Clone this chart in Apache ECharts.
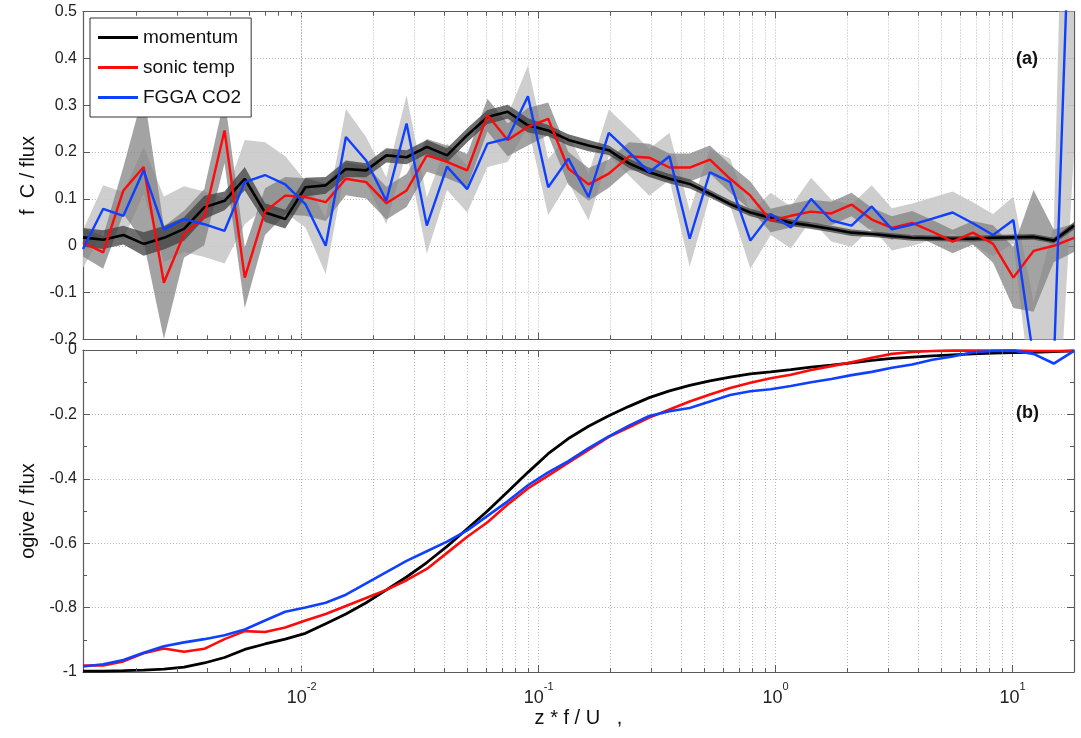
<!DOCTYPE html>
<html><head><meta charset="utf-8">
<script src="https://cdn.jsdelivr.net/npm/echarts@6/dist/echarts.min.js"></script>
<style>html,body{margin:0;padding:0;background:#fff}#c{width:1081px;height:738px}</style>
</head><body><div id="c"></div>
<script>
// normalised frequency z*f/U (bin centres)
const freq = [0.001195,0.001454,0.001769,0.002154,0.002622,0.003190,0.003883,0.004727,0.005753,0.007004,
  0.008524,0.01037,0.01263,0.01537,0.01871,0.02277,0.02771,0.03373,0.04106,0.04997,
  0.06081,0.07401,0.09011,0.1097,0.1335,0.1624,0.1977,0.2406,0.2929,0.3565,
  0.4338,0.5281,0.6427,0.7822,0.9524,1.159,1.411,1.717,2.090,2.544,
  3.096,3.768,4.586,5.581,6.797,8.272,10.07,12.25,14.91,18.15];

// panel (a): f C / flux
const specMomentum = [0.018,0.013,0.023,0.004,0.017,0.036,0.082,0.096,0.143,0.071,
  0.057,0.125,0.129,0.164,0.161,0.193,0.189,0.211,0.193,0.236,
  0.275,0.286,0.257,0.246,0.226,0.214,0.204,0.176,0.157,0.143,
  0.132,0.111,0.089,0.071,0.060,0.049,0.043,0.036,0.028,0.025,
  0.021,0.017,0.016,0.015,0.015,0.017,0.018,0.019,0.011,0.043];
const specSonic = [0.007,-0.014,0.118,0.168,-0.079,0.025,0.061,0.246,-0.068,0.073,
  0.107,0.104,0.093,0.143,0.136,0.091,0.118,0.193,0.179,0.161,
  0.279,0.226,0.254,0.271,0.165,0.131,0.154,0.191,0.188,0.167,
  0.167,0.184,0.143,0.107,0.054,0.064,0.073,0.069,0.088,0.056,
  0.038,0.049,0.030,0.009,0.028,0.004,-0.068,-0.011,0.0,0.017];
const specCO2 = [-0.007,0.079,0.064,0.161,0.035,0.057,0.046,0.032,0.136,0.151,
  0.131,0.089,0.0,0.232,0.182,0.096,0.261,0.043,0.169,0.121,
  0.218,0.229,0.319,0.125,0.186,0.104,0.241,0.2,0.157,0.191,
  0.015,0.157,0.136,0.011,0.068,0.039,0.1,0.054,0.043,0.084,
  0.035,0.045,0.058,0.071,0.048,0.023,0.055,-0.24,-0.26,1.0];
// half-widths of the shaded spread bands
const errMomentum = [0.02,0.02,0.02,0.025,0.025,0.025,0.025,0.02,0.025,0.02,
  0.02,0.02,0.018,0.018,0.015,0.015,0.015,0.015,0.015,0.015,
  0.015,0.015,0.015,0.012,0.012,0.012,0.01,0.01,0.01,0.01,
  0.01,0.008,0.008,0.008,0.008,0.007,0.007,0.007,0.007,0.006,
  0.006,0.006,0.006,0.006,0.006,0.006,0.006,0.006,0.006,0.008];
const errSonic = [0.03,0.035,0.05,0.16,0.12,0.05,0.06,0.07,0.065,0.05,
  0.04,0.04,0.04,0.035,0.035,0.035,0.035,0.035,0.035,0.035,
  0.035,0.035,0.04,0.035,0.035,0.035,0.03,0.03,0.03,0.03,
  0.03,0.03,0.03,0.03,0.025,0.025,0.025,0.025,0.025,0.025,
  0.025,0.025,0.025,0.025,0.025,0.04,0.065,0.13,0.035,0.03];
const errCO2 = [0.04,0.05,0.05,0.05,0.07,0.07,0.07,0.07,0.09,0.07,
  0.06,0.05,0.06,0.06,0.05,0.05,0.06,0.06,0.05,0.05,
  0.05,0.05,0.065,0.06,0.05,0.05,0.05,0.05,0.05,0.05,
  0.06,0.05,0.05,0.06,0.045,0.045,0.045,0.045,0.045,0.045,
  0.045,0.045,0.045,0.045,0.045,0.045,0.05,0.12,0.3,0.8];

// panel (b): ogive / flux
const ogMomentum = [-0.997,-0.997,-0.996,-0.994,-0.991,-0.985,-0.972,-0.955,-0.93,-0.913,
  -0.898,-0.88,-0.85,-0.82,-0.785,-0.745,-0.705,-0.66,-0.61,-0.555,
  -0.50,-0.44,-0.38,-0.322,-0.275,-0.237,-0.204,-0.175,-0.148,-0.127,
  -0.11,-0.096,-0.084,-0.074,-0.068,-0.061,-0.053,-0.047,-0.040,-0.032,
  -0.026,-0.022,-0.018,-0.015,-0.012,-0.01,-0.008,-0.007,-0.005,-0.003];
const ogSonic = [-0.98,-0.98,-0.967,-0.942,-0.927,-0.937,-0.928,-0.898,-0.873,-0.876,
  -0.862,-0.84,-0.82,-0.795,-0.77,-0.745,-0.715,-0.68,-0.63,-0.58,
  -0.535,-0.48,-0.43,-0.39,-0.35,-0.31,-0.27,-0.24,-0.21,-0.185,
  -0.16,-0.138,-0.118,-0.102,-0.088,-0.077,-0.062,-0.05,-0.038,-0.024,
  -0.012,-0.006,-0.003,-0.002,-0.002,-0.002,-0.002,-0.003,-0.003,-0.003];
const ogCO2 = [-0.983,-0.976,-0.963,-0.94,-0.92,-0.908,-0.898,-0.886,-0.868,-0.84,
  -0.813,-0.80,-0.785,-0.76,-0.725,-0.69,-0.655,-0.625,-0.595,-0.56,
  -0.515,-0.47,-0.42,-0.38,-0.345,-0.305,-0.268,-0.235,-0.205,-0.19,
  -0.18,-0.16,-0.14,-0.128,-0.122,-0.112,-0.1,-0.09,-0.078,-0.068,
  -0.055,-0.045,-0.03,-0.02,-0.007,-0.003,-0.002,-0.012,-0.042,-0.003];

// axis ticks
const minorXTicks = [0.002,0.003,0.004,0.005,0.006,0.007,0.008,0.009,
  0.02,0.03,0.04,0.05,0.06,0.07,0.08,0.09,
  0.2,0.3,0.4,0.5,0.6,0.7,0.8,0.9,
  2,3,4,5,6,7,8,9];
const seriesNames = ['momentum','sonic temp','FGGA CO2'];
const seriesColors = ['#000000','#ff0a0a','#1040ff'];

const FONT = '"Liberation Sans", Arial, Helvetica, sans-serif';
const XMIN = freq[0], XMAX = freq[freq.length - 1];
const pairs = ys => freq.map((x, i) => [x, ys[i]]);

const gridLine = {show: true, lineStyle: {color: '#b8b8b8', type: [1, 2], width: 1}};
const axisColor = '#5a5a5a';

function xAxisDef(gi, pos, labels) {
  return {
    type: 'log', logBase: 10, gridIndex: gi, position: pos, min: XMIN, max: XMAX,
    axisLine: {show: true, onZero: false, lineStyle: {color: axisColor, width: 1.2}},
    axisTick: {show: true, inside: true, length: 7, lineStyle: {color: axisColor}},
    axisLabel: labels ? {
      show: true, showMinLabel: false, showMaxLabel: false, margin: 9,
      formatter: v => '{b|10}{s|' + Math.round(Math.log10(v)) + '}',
      rich: {
        b: {fontSize: 18, fontFamily: FONT, color: '#222', verticalAlign: 'bottom', lineHeight: 26},
        s: {fontSize: 11, fontFamily: FONT, color: '#222', verticalAlign: 'top'}
      }
    } : {show: false},
    splitLine: pos === 'bottom' ? gridLine : {show: false}
  };
}
function yAxisDef(gi, pos, min, max, interval, minor, name) {
  const a = {
    type: 'value', gridIndex: gi, position: pos, min: min, max: max, interval: interval,
    axisLine: {show: true, onZero: false, lineStyle: {color: axisColor, width: 1.2}},
    axisTick: {show: true, inside: true, length: 7, lineStyle: {color: axisColor}},
    minorTick: minor ? {show: true, splitNumber: 2, length: 4, lineStyle: {color: axisColor}} : {show: false},
    axisLabel: pos === 'left' ? {show: true, fontSize: 16, color: '#222', fontFamily: FONT, margin: 6} : {show: false},
    splitLine: pos === 'left' ? gridLine : {show: false}
  };
  if (name) {
    a.name = name; a.nameLocation = 'middle'; a.nameGap = 44;
    a.nameTextStyle = {fontSize: 20, color: '#111', fontFamily: FONT};
  }
  return a;
}
// shaded spread band drawn as one polygon through the axes' scales
function band(gi, ys, e, color, opacity) {
  return {
    type: 'custom', xAxisIndex: gi * 2, yAxisIndex: gi * 2, silent: true, z: 2,
    data: freq.map((x, i) => [x, ys[i] - e[i], ys[i] + e[i]]),
    encode: {x: 0, y: [1, 2]},
    renderItem: (params, api) => {
      if (params.dataIndex !== 0) return null;
      const n = params.dataInsideLength || freq.length;
      const up = [], lo = [];
      for (let i = 0; i < n; i++) {
        up.push(api.coord([api.value(0, i), api.value(2, i)]));
        lo.push(api.coord([api.value(0, i), api.value(1, i)]));
      }
      const cs = params.coordSys;
      return {
        type: 'polygon', shape: {points: up.concat(lo.reverse())},
        style: {fill: color, opacity: opacity},
        clipPath: {type: 'rect', shape: {x: cs.x, y: cs.y, width: cs.width, height: cs.height}}
      };
    }
  };
}
function line(gi, idx, ys, w) {
  return {type: 'line', name: seriesNames[idx], xAxisIndex: gi * 2, yAxisIndex: gi * 2, data: pairs(ys),
    symbol: 'none', z: 3, lineStyle: {color: seriesColors[idx], width: w}, itemStyle: {color: seriesColors[idx]}};
}
// dotted grid lines and short inside ticks at the minor log positions
function minorGrid(gi, ys, yMin, yMax, tickLen) {
  const ticks = [];
  minorXTicks.forEach(v => {
    ticks.push([{coord: [v, yMin]}, {coord: [v, yMin + tickLen]}]);
    ticks.push([{coord: [v, yMax]}, {coord: [v, yMax - tickLen]}]);
  });
  return [
    {type: 'line', name: 'minorGrid' + gi, xAxisIndex: gi * 2, yAxisIndex: gi * 2, data: pairs(ys),
      symbol: 'none', lineStyle: {opacity: 0}, silent: true, z: 1,
      markLine: {silent: true, symbol: ['none', 'none'], label: {show: false}, animation: false, z: 1,
        lineStyle: {type: [1, 2], color: '#b8b8b8', width: 1}, emphasis: {disabled: true},
        data: minorXTicks.map(v => ({xAxis: v}))}},
    {type: 'line', name: 'minorTick' + gi, xAxisIndex: gi * 2, yAxisIndex: gi * 2, data: pairs(ys),
      symbol: 'none', lineStyle: {opacity: 0}, silent: true, z: 4,
      markLine: {silent: true, symbol: ['none', 'none'], label: {show: false}, animation: false, z: 4,
        lineStyle: {type: 'solid', color: axisColor, width: 1}, emphasis: {disabled: true},
        data: ticks}}
  ];
}

const option = {
  backgroundColor: '#ffffff',
  animation: false,
  grid: [
    {left: 83, top: 11.5, width: 991, height: 328},
    {left: 83, top: 350, width: 991, height: 322}
  ],
  xAxis: [
    xAxisDef(0, 'bottom', false), xAxisDef(0, 'top', false),
    Object.assign(xAxisDef(1, 'bottom', true), {name: 'z * f / U   ,', nameLocation: 'middle', nameGap: 36,
      nameTextStyle: {fontSize: 20, color: '#111', fontFamily: FONT}}),
    xAxisDef(1, 'top', false)
  ],
  yAxis: [
    yAxisDef(0, 'left', -0.2, 0.5, 0.1, false, 'f  C / flux'), yAxisDef(0, 'right', -0.2, 0.5, 0.1, false),
    yAxisDef(1, 'left', -1, 0, 0.2, true, 'ogive / flux'), yAxisDef(1, 'right', -1, 0, 0.2, true)
  ],
  legend: {
    data: seriesNames, orient: 'vertical', left: 90, top: 18, padding: [10, 10, 10, 8], itemGap: 11,
    icon: 'rect', itemWidth: 40, itemHeight: 3, itemTextGap: 6, backgroundColor: '#fff', borderColor: '#333', borderWidth: 1,
    borderRadius: 0, textStyle: {fontSize: 19, color: '#111', fontFamily: FONT}, selectedMode: false, z: 10
  },
  graphic: [
    {type: 'text', left: 1016, top: 50, z: 10, style: {text: '(a)', font: 'bold 18px ' + FONT, fill: '#111'}},
    {type: 'text', left: 1016, top: 404, z: 10, style: {text: '(b)', font: 'bold 18px ' + FONT, fill: '#111'}}
  ],
  series: [
    ...minorGrid(0, specMomentum, -0.2, 0.5, 0.009),
    band(0, specCO2, errCO2, '#c9c9c9', 0.9),
    band(0, specSonic, errSonic, '#808080', 0.72),
    band(0, specMomentum, errMomentum, '#404040', 0.75),
    line(0, 0, specMomentum, 2.6), line(0, 1, specSonic, 2.4), line(0, 2, specCO2, 2.4),
    ...minorGrid(1, ogMomentum, -1, 0, 0.0125),
    line(1, 0, ogMomentum, 2.8), line(1, 1, ogSonic, 2.6), line(1, 2, ogCO2, 2.6)
  ]
};
const chart = echarts.init(document.getElementById('c'), null, {renderer: 'canvas'});
chart.setOption(option);
</script></body></html>
